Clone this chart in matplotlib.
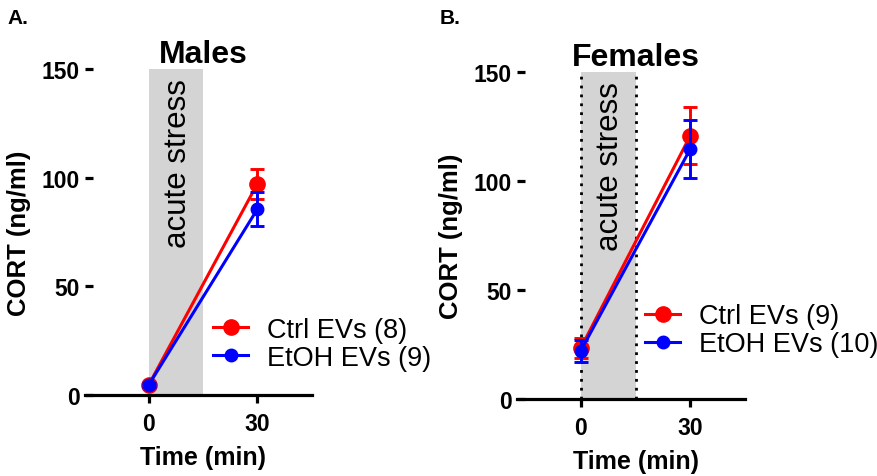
import matplotlib
matplotlib.use("Agg")
import matplotlib.pyplot as plt

plt.rcParams["font.family"] = ["Liberation Sans", "DejaVu Sans"]

# data
time_min = [0, 30]

males_ctrl = [4.5, 97.3]
males_ctrl_err = [0.8, 6.9]
males_etoh = [4.5, 85.6]
males_etoh_err = [0.8, 7.9]

females_ctrl = [23.4, 120.8]
females_ctrl_err = [4.6, 13.2]
females_etoh = [22.2, 114.7]
females_etoh_err = [5.0, 13.5]

males_labels = ["Ctrl EVs (8)", "EtOH EVs (9)"]
females_labels = ["Ctrl EVs (9)", "EtOH EVs (10)"]

stress_window = [0, 15]
yticks = [0, 50, 100, 150]

RED = "#ff0000"
BLUE = "#0000ff"

fig = plt.figure(figsize=(8.77, 4.77), dpi=100)


def draw_panel(rect, title, letter, ctrl, ctrl_err, etoh, etoh_err, labels,
               dotted, leg_anchor):
    ax = fig.add_axes(rect)
    ax.set_xlim(-17.5, 45)
    ax.set_ylim(0, 150)

    # shaded stress window
    ax.axvspan(stress_window[0], stress_window[1], ymin=0, ymax=1,
               color="#d4d4d4", lw=0, zorder=0)
    if dotted:
        for xv in stress_window:
            ax.plot([xv, xv], [0, 150], color="black", ls=(0, (1, 2.2)),
                    lw=2, zorder=1, clip_on=False)
    ax.text(8, 146, "acute stress", rotation=90, ha="center", va="top",
            fontsize=22.5, zorder=2)

    # series
    handles = []
    for vals, errs, col, ms in [(ctrl, ctrl_err, RED, 11),
                                (etoh, etoh_err, BLUE, 9)]:
        ax.errorbar(time_min, vals, yerr=errs, fmt="none", ecolor=col,
                    elinewidth=2.1, capsize=4.7, capthick=2.1, zorder=3,
                    clip_on=False)
        h, = ax.plot(time_min, vals, color=col, lw=2.2, marker="o",
                     markersize=ms, zorder=3, clip_on=False)
        handles.append(h)

    ax.legend(handles, labels, loc="upper left", bbox_to_anchor=leg_anchor,
              frameon=False, fontsize=19.5, borderpad=0, borderaxespad=0,
              handlelength=1.3, handletextpad=0.7, labelspacing=0.08)

    # axes styling
    for s in ["left", "top", "right"]:
        ax.spines[s].set_visible(False)
    ax.spines["bottom"].set_linewidth(2.3)
    ax.set_xticks(time_min)
    ax.set_yticks(yticks)
    ax.tick_params(axis="x", direction="out", length=6, width=2.3, pad=6.5,
                   labelsize=16.5)
    ax.tick_params(axis="y", direction="in", length=6, width=2.3, pad=3.6,
                   labelsize=16.5)
    for lab in ax.get_xticklabels() + ax.get_yticklabels():
        lab.set_fontweight("bold")

    ax.set_xlabel("Time (min)", fontsize=18, fontweight="bold")
    ax.xaxis.set_label_coords(0.52, -0.153)
    ax.set_title(title, fontsize=23, fontweight="bold", pad=2, x=0.52)

    x0 = rect[0]
    fig.text(x0 - 0.075, rect[1] + rect[3] * 0.5, "CORT (ng/ml)",
             rotation=90, ha="center", va="center", fontsize=18.5,
             fontweight="bold")
    fig.text(x0 - 0.088, 0.962, letter, ha="left", va="center", fontsize=15,
             fontweight="bold")
    return ax


draw_panel([0.0969, 0.1698, 0.2588, 0.6834], "Males", "A.",
           males_ctrl, males_ctrl_err, males_etoh, males_etoh_err,
           males_labels, False, (0.564, 0.24))
draw_panel([0.5895, 0.1614, 0.2600, 0.6855], "Females", "B.",
           females_ctrl, females_ctrl_err, females_etoh, females_etoh_err,
           females_labels, True, (0.561, 0.293))

fig.savefig("out.png", dpi=100)
